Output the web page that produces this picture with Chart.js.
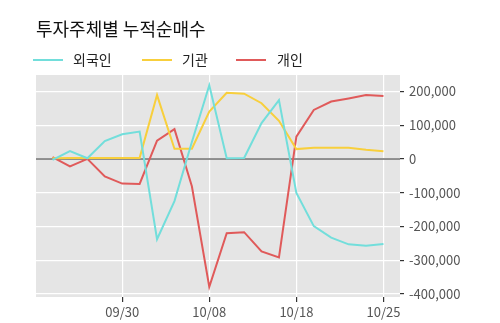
<!DOCTYPE html>
<html>
<head>
<meta charset="utf-8">
<script src="https://cdn.jsdelivr.net/npm/chart.js@4"></script>
<style>
  body { margin: 0; background: #fff; font-family: "Noto Sans CJK KR", sans-serif; }
  #wrap { position: relative; width: 500px; height: 323px; }
  #title { position: absolute; left: 36px; top: 15px; font-size: 18px; color: #111; }
  .leg { position: absolute; top: 49px; font-size: 14px; color: #222; }
  .leg i { position: absolute; top: 10px; width: 30px; height: 2px; }
  canvas { position: absolute; left: 0; top: 0; }
</style>
</head>
<body>
<div id="wrap">
  <canvas id="chart" width="500" height="323"></canvas>
  <div id="title">투자주체별 누적순매수</div>
  <div class="leg" style="left:73px"><i style="left:-40px;background:#72DEDB"></i>외국인</div>
  <div class="leg" style="left:182px"><i style="left:-40px;background:#F8CF3C"></i>기관</div>
  <div class="leg" style="left:277px"><i style="left:-41px;background:#E05A5A"></i>개인</div>
</div>
<script>
  const dates = ["09/24", "09/25", "09/26", "09/27", "09/30", "10/01", "10/02", "10/04", "10/07", "10/08",
                 "10/11", "10/14", "10/15", "10/17", "10/18", "10/21", "10/22", "10/23", "10/24", "10/25"];
  const shownTicks = [4, 9, 14, 19];
  const yTicks = [-400000, -300000, -200000, -100000, 0, 100000, 200000];

  // 외국인
  const foreign = [-3000, 23000, 2000, 53000, 73000, 81000, -238000, -125000, 50000, 218000,
                   2000, 3000, 106000, 174000, -101000, -199000, -233000, -253000, -257000, -252000];
  // 기관
  const inst = [2000, 3000, 3000, 3000, 3000, 3000, 189000, 30000, 30000, 140000,
                196000, 193000, 165000, 113000, 29000, 33000, 33000, 33000, 27000, 23000];
  // 개인
  const indiv = [5000, -22000, 0, -52000, -73000, -74000, 54000, 88000, -81000, -379000,
                 -220000, -217000, -274000, -292000, 66000, 145000, 170000, 179000, 189000, 186000];

  const toPts = (arr) => arr.map((v, i) => ({ x: i, y: v }));

  const plotBg = {
    id: "plotBg",
    beforeDraw(chart) {
      const { ctx, chartArea: a } = chart;
      ctx.save();
      ctx.fillStyle = "#E5E5E5";
      ctx.fillRect(a.left, a.top, a.right - a.left, a.bottom - a.top);
      ctx.restore();
    },
    beforeDatasetsDraw(chart) {
      const { ctx, chartArea: a, scales } = chart;
      const y0 = scales.y.getPixelForValue(0);
      ctx.save();
      ctx.strokeStyle = "#6E6E6E";
      ctx.lineWidth = 1.5;
      ctx.beginPath();
      ctx.moveTo(a.left, y0);
      ctx.lineTo(a.right, y0);
      ctx.stroke();
      ctx.restore();
    }
  };

  const line = (label, data, color) => ({
    label, data: toPts(data), borderColor: color, backgroundColor: color,
    borderWidth: 2, pointRadius: 0, tension: 0
  });

  new Chart(document.getElementById("chart"), {
    type: "line",
    data: {
      datasets: [
        line("외국인", foreign, "#72DEDB"),
        line("기관", inst, "#F8CF3C"),
        line("개인", indiv, "#E05A5A")
      ]
    },
    plugins: [plotBg],
    options: {
      responsive: false,
      animation: false,
      layout: { padding: { left: 36, top: 75 } },
      plugins: { legend: { display: false }, tooltip: { enabled: false } },
      scales: {
        x: {
          type: "linear",
          min: -0.95,
          max: 19.95,
          afterBuildTicks: (s) => { s.ticks = shownTicks.map((v) => ({ value: v })); },
          afterFit: (s) => { s.height = 26; },
          border: { display: false },
          grid: { color: "#FFFFFF", lineWidth: 1.2, tickColor: "#333", tickLength: 5 },
          ticks: {
            padding: 2,
            color: "#555",
            font: { family: "Noto Sans CJK KR", size: 13 },
            callback: (v) => dates[v]
          }
        },
        y: {
          position: "right",
          min: -409000,
          max: 248500,
          afterBuildTicks: (s) => { s.ticks = yTicks.map((v) => ({ value: v })); },
          afterFit: (s) => { s.width = 100; },
          border: { display: false },
          grid: { color: "#FFFFFF", lineWidth: 1.2, tickColor: "#333", tickLength: 4 },
          ticks: {
            padding: 5,
            color: "#555",
            font: { family: "Noto Sans CJK KR", size: 13 },
            callback: (v) => v.toLocaleString("en-US")
          }
        }
      }
    }
  });
</script>
</body>
</html>
